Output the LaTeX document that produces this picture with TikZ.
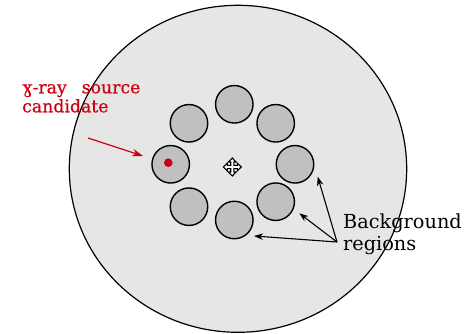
\documentclass[tikz,border=0pt]{standalone}
\usepackage{fontspec}
\setmainfont{DejaVu Serif}
\newfontfamily\srcfont[FakeBold=0.6]{DejaVu Serif}
\usetikzlibrary{arrows.meta}
\definecolor{bigfill}{RGB}{230,230,230}
\definecolor{smallfill}{RGB}{192,192,192}
\definecolor{srcred}{RGB}{204,0,17}
\tikzset{
  region/.style={circle, draw=black, line width=1.4pt, fill=smallfill, minimum size=37.5pt, inner sep=0pt},
  pointer/.style={line width=1.1pt, -{Stealth[length=9pt,width=6.5pt]}},
}
\begin{document}
\begin{tikzpicture}[x=1pt,y=-1pt]
\useasboundingbox (0,0) rectangle (467,334);
% field of view
\draw[line width=1.2pt, fill=bigfill] (238,168.8) ellipse [x radius=168.7, y radius=163.5];
% background regions
\node[region] (top) at (234.3,104.3) {};
\node[region] (tr) at (275.7,123.3) {};
\node[region] (r) at (295,164.3) {};
\node[region] (br) at (275.7,201.7) {};
\node[region] (b) at (234.3,220) {};
\node[region] (bl) at (189,206.7) {};
\node[region] (l) at (170.7,164.3) {};
\node[region] (tl) at (189,123.3) {};
% source
\fill[srcred] (168.3,162.7) circle [radius=4.3];
% centre marker
\begin{scope}[shift={(232.3,167)}]
\draw[line width=1.1pt, fill=white, line join=miter]
 (0,-9) -- (3.8,-5) -- (1.6,-5) -- (1.6,-1.6) -- (5,-1.6) -- (5,-3.8) -- (9,0)
 -- (5,3.8) -- (5,1.6) -- (1.6,1.6) -- (1.6,5) -- (3.8,5) -- (0,9)
 -- (-3.8,5) -- (-1.6,5) -- (-1.6,1.6) -- (-5,1.6) -- (-5,3.8) -- (-9,0)
 -- (-5,-3.8) -- (-5,-1.6) -- (-1.6,-1.6) -- (-1.6,-5) -- (-3.8,-5) -- cycle;
\end{scope}
% labels
\node[anchor=base west, inner sep=0pt, text=srcred, font=\srcfont\fontsize{17.3}{19}\selectfont, align=left] (srclab) at (22,112.3) {ɣ-ray\hspace{15pt}source\\candidate};
\node[anchor=base west, inner sep=0pt, font=\fontsize{19.3}{22.3}\selectfont, align=left] (bglab) at (343,250.7) {Background\\regions};
% arrows
\coordinate (srctail) at (88,138);
\coordinate (srchead) at (143,156);
\draw[line width=1.2pt, -{Stealth[length=11pt,width=7.5pt]}, draw=srcred, fill=srcred] (srctail) -- (srchead);
\coordinate (apex) at (337,242);
\coordinate (h1) at (317.7,176.7);
\coordinate (h2) at (299.3,213.3);
\coordinate (h3) at (254,236);
\draw[pointer] (apex) -- (h1);
\draw[pointer] (apex) -- (h2);
\draw[pointer] (apex) -- (h3);
\end{tikzpicture}
\end{document}
